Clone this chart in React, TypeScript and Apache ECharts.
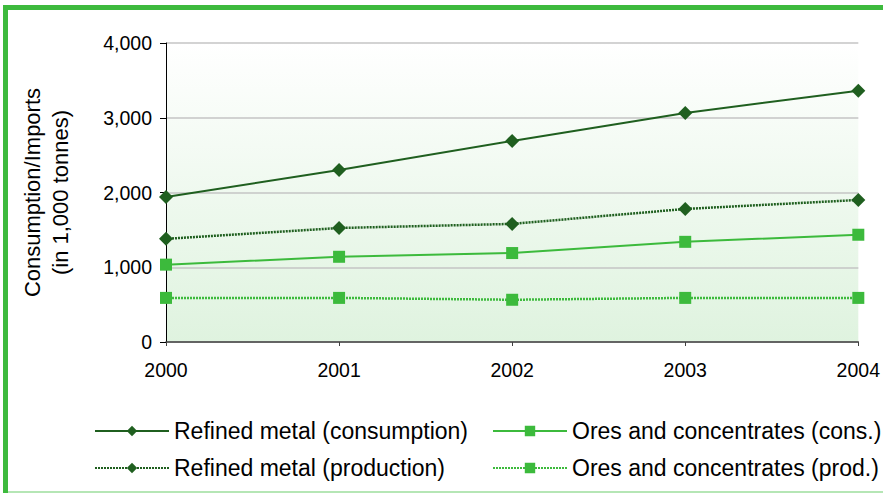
import React, { useEffect, useRef } from "react";
import * as echarts from "echarts";

const years = ["2000", "2001", "2002", "2003", "2004"];
const refinedConsumption = [1940, 2300, 2690, 3065, 3360];
const refinedProduction = [1380, 1525, 1580, 1780, 1900];
const oresConsumption = [1035, 1140, 1190, 1340, 1435];
const oresProduction = [590, 590, 565, 590, 590];

const seriesNames = [
  "Refined metal (consumption)",
  "Refined metal (production)",
  "Ores and concentrates (cons.)",
  "Ores and concentrates (prod.)",
];

const DARK = "#1f5f1f";
const LIGHT = "#3cba3c";
const FONT = "'Liberation Sans', Arial, sans-serif";

export default function App() {
  const ref = useRef<HTMLDivElement>(null);
  useEffect(() => {
    const chart = echarts.init(ref.current!, undefined, { renderer: "svg" });
    const legendBase = {
      orient: "horizontal",
      padding: 0,
      itemWidth: 74,
      itemHeight: 13,
      itemGap: 7,
      textStyle: { fontFamily: FONT, fontSize: 23, color: "#000", lineHeight: 24, padding: [0, 0, 0, 0] },
      selectedMode: false,
    };
    const mk = (name: string, data: number[], color: string, dashed: boolean, symbol: string, size: number) => ({
      name,
      type: "line",
      data,
      symbol,
      symbolSize: size,
      showSymbol: true,
      lineStyle: { color, width: dashed ? 2.5 : 2, type: dashed ? [2, 1] : "solid" },
      itemStyle: { color },
      z: 3,
    });
    chart.setOption({
      animation: false,
      backgroundColor: "#fff",
      textStyle: { fontFamily: FONT },
      graphic: [
        { type: "rect", shape: { x: 3, y: 5, width: 5, height: 488 }, style: { fill: "#3dba3d" } },
        { type: "rect", shape: { x: 3, y: 5, width: 880, height: 5 }, style: { fill: "#3dba3d" } },
        { type: "rect", shape: { x: 8, y: 491, width: 875, height: 2 }, style: { fill: "#b5e6b5" } },
      ],
      legend: [
        { ...legendBase, left: 94, top: 419, data: [seriesNames[0]] },
        { ...legendBase, left: 94, top: 456, data: [seriesNames[1]] },
        { ...legendBase, left: 492, top: 419, data: [seriesNames[2]] },
        { ...legendBase, left: 492, top: 456, data: [seriesNames[3]] },
      ],
      grid: {
        left: 166,
        right: 23,
        top: 43,
        bottom: 151,
        show: true,
        borderWidth: 0,
        backgroundColor: new echarts.graphic.LinearGradient(0, 0, 0, 1, [
          { offset: 0, color: "#ffffff" },
          { offset: 1, color: "#dff3df" },
        ]),
      },
      xAxis: {
        type: "category",
        data: years,
        boundaryGap: false,
        axisLine: { lineStyle: { color: "#404040", width: 1.5 } },
        axisTick: { show: true, length: 4, lineStyle: { color: "#404040" } },
        axisLabel: { fontSize: 19.5, color: "#000", margin: 18, fontFamily: FONT },
        splitLine: { show: false },
      },
      yAxis: {
        type: "value",
        min: 0,
        max: 4000,
        interval: 1000,
        name: "Consumption/Imports\n(in 1,000 tonnes)",
        nameLocation: "middle",
        nameGap: 92,
        nameTextStyle: { fontSize: 22, color: "#000", lineHeight: 28, fontFamily: FONT },
        axisLine: { show: true, lineStyle: { color: "#000", width: 1 } },
        axisTick: { show: true, length: 6, lineStyle: { color: "#000" } },
        axisLabel: {
          fontSize: 19.5,
          color: "#000",
          margin: 14,
          fontFamily: FONT,
          formatter: (v: number) => v.toLocaleString("en-US"),
        },
        splitLine: { show: true, lineStyle: { color: "#c4c4c4", width: 1.5 } },
      },
      series: [
        mk(seriesNames[0], refinedConsumption, DARK, false, "diamond", 14),
        mk(seriesNames[1], refinedProduction, DARK, true, "diamond", 14),
        mk(seriesNames[2], oresConsumption, LIGHT, false, "rect", 12),
        mk(seriesNames[3], oresProduction, LIGHT, true, "rect", 12),
      ],
    });
    return () => chart.dispose();
  }, []);
  return <div ref={ref} style={{ width: 883, height: 493, position: "absolute", left: 0, top: 0 }} />;
}
